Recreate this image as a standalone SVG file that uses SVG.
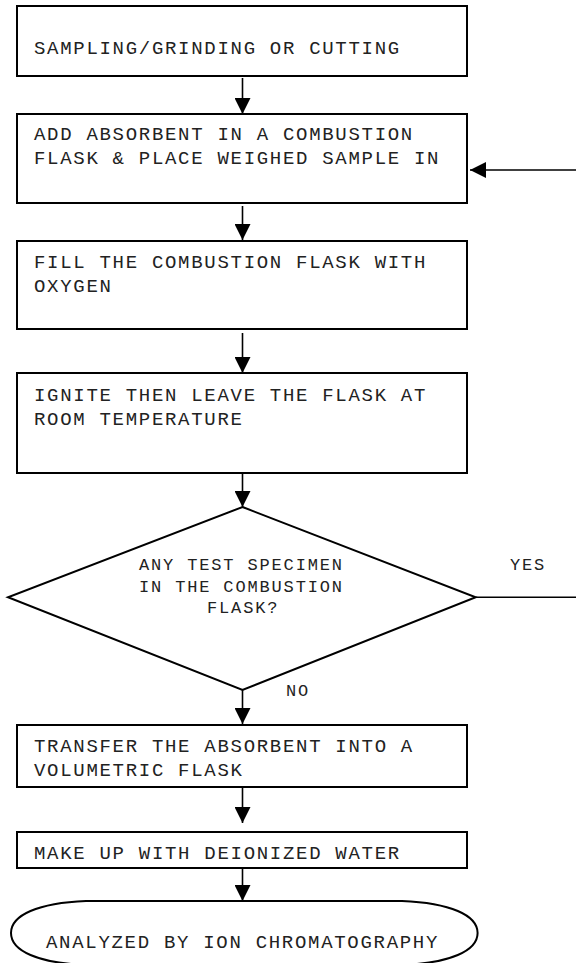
<svg xmlns="http://www.w3.org/2000/svg" width="576" height="963" viewBox="0 0 576 963">
<style>
.box{fill:#fff;stroke:#000;stroke-width:2}
.t{font-family:"Liberation Mono","Courier New",monospace;font-size:19px;letter-spacing:1.7px;fill:#222}
.d{font-family:"Liberation Mono","Courier New",monospace;font-size:17px;letter-spacing:1.85px;fill:#222}
.c{fill:none;stroke:#000;stroke-width:1.6}
</style>
<defs>
<marker id="ah" markerUnits="userSpaceOnUse" markerWidth="16" markerHeight="16" viewBox="0 0 16 16" refX="16" refY="8" orient="auto">
<path d="M0,0 L16,8 L0,16 Z" fill="#000"/>
</marker>
</defs>
<rect width="576" height="963" fill="#fff"/>
<g id="connectors">
<line class="c" x1="242.5" y1="78" x2="242.5" y2="114" marker-end="url(#ah)"/>
<line class="c" x1="576" y1="170" x2="470" y2="170" marker-end="url(#ah)"/>
<line class="c" x1="242.5" y1="206" x2="242.5" y2="240" marker-end="url(#ah)"/>
<line class="c" x1="242.5" y1="333" x2="242.5" y2="373" marker-end="url(#ah)"/>
<line class="c" x1="242.5" y1="474" x2="242.5" y2="507" marker-end="url(#ah)"/>
<line class="c" x1="475.7" y1="597.3" x2="576" y2="597.3"/>
<line class="c" x1="242.5" y1="690" x2="242.5" y2="724" marker-end="url(#ah)"/>
<line class="c" x1="242.5" y1="788" x2="242.5" y2="823" marker-end="url(#ah)"/>
<line class="c" x1="242.5" y1="869" x2="242.5" y2="901" marker-end="url(#ah)"/>
<text class="d" x="510" y="570">YES</text>
<text class="d" x="286" y="696">NO</text>
</g>
<g id="n1">
<rect class="box" x="17" y="6" width="450" height="70"/>
<text class="t" x="34" y="54">SAMPLING/GRINDING OR CUTTING</text>
</g>
<g id="n2">
<rect class="box" x="17" y="114" width="450" height="89"/>
<text class="t" x="34" y="140">ADD ABSORBENT IN A COMBUSTION</text>
<text class="t" x="34" y="164">FLASK &amp; PLACE WEIGHED SAMPLE IN</text>
</g>
<g id="n3">
<rect class="box" x="17" y="241" width="450" height="88"/>
<text class="t" x="34" y="268">FILL THE COMBUSTION FLASK WITH</text>
<text class="t" x="34" y="292">OXYGEN</text>
</g>
<g id="n4">
<rect class="box" x="17" y="373" width="450" height="100"/>
<text class="t" x="34" y="400.5">IGNITE THEN LEAVE THE FLASK AT</text>
<text class="t" x="34" y="424.5">ROOM TEMPERATURE</text>
</g>
<g id="n5">
<polygon class="box" points="242.5,507 475.7,597.3 242.5,690 8,597.3"/>
<text class="d" x="139" y="570">ANY TEST SPECIMEN</text>
<text class="d" x="139" y="591.5">IN THE COMBUSTION</text>
<text class="d" x="207" y="613">FLASK?</text>
</g>
<g id="n6">
<rect class="box" x="17" y="725" width="450" height="62"/>
<text class="t" x="34" y="751.5">TRANSFER THE ABSORBENT INTO A</text>
<text class="t" x="34" y="776">VOLUMETRIC FLASK</text>
</g>
<g id="n7">
<rect class="box" x="17" y="832" width="450" height="36"/>
<text class="t" x="34" y="859">MAKE UP WITH DEIONIZED WATER</text>
</g>
<g id="n8">
<path class="box" d="M86,901 L402,901 C450,903 477.6,915 477.6,933 C477.6,951 450,963 402,965 L86,965 C38,963 11,951 11,933 C11,915 38,903 86,901 Z"/>
<text class="t" x="46" y="948">ANALYZED BY ION CHROMATOGRAPHY</text>
</g>
</svg>
